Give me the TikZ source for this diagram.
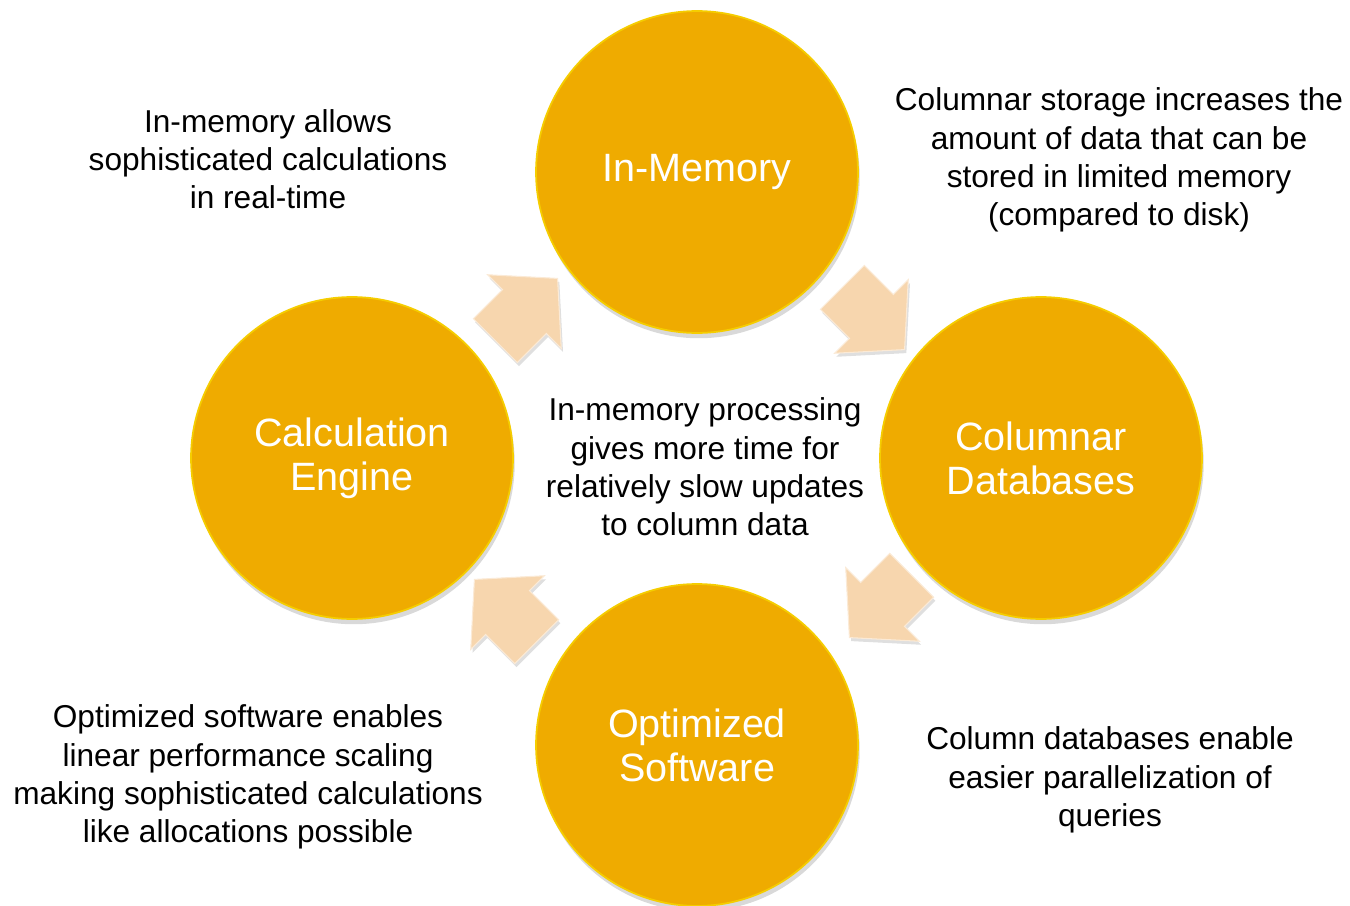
\documentclass[tikz,border=0pt]{standalone}
\usepackage{fontspec}
\setmainfont{Liberation Sans}
\usetikzlibrary{shapes.arrows, shadows, positioning}
\definecolor{gold}{RGB}{239,171,0}
\definecolor{peach}{RGB}{247,214,174}

\begin{document}
\begin{tikzpicture}[
	x=0.02cm, y=-0.02cm,
	topic/.style = {shape=circle, fill=gold, draw=gold!60!yellow, line width=1pt, minimum size=6.44cm, inner sep=0mm, text=white, align=center, font=\fontsize{22.5}{25}\selectfont, drop shadow={opacity=0.3, shadow xshift=1pt, shadow yshift=-3pt}},
	note/.style = {shape=rectangle, draw=none, inner sep=0mm, align=center, font=\fontsize{18}{21.8}\selectfont},
	flow/.style = {shape=single arrow, fill=peach, draw=peach!50!white, line width=0.6pt, minimum height=1.76cm, single arrow head extend=0.42cm, single arrow tip angle=96, inner xsep=0mm, inner ysep=0.61cm, anchor=tail, drop shadow={opacity=0.25, shadow xshift=1pt, shadow yshift=-2pt}},
	]
\useasboundingbox (0,0) rectangle (1350,906);
% the four circles
\node[topic] (mem) at (697,172) {In-Memory};
\node[topic] (col) at (1041,458) {Columnar\\Databases};
\node[topic] (opt) at (697,745) {Optimized\\Software};
\node[topic] (calc) at (352,458) {Calculation\\Engine};
% block arrows, clockwise
\node[flow, rotate=45] (a1) at (495,341) {};
\node[flow, rotate=-45] (a2) at (842,287) {};
\node[flow, rotate=-135] (a3) at (912,575) {};
\node[flow, rotate=135] (a4) at (537,642) {};
% notes
\node[note] (nmem) at (268,159) {In-memory allows\\sophisticated calculations\\in real-time};
\node[note] (ncol) at (1119,160) {Columnar storage increases the\\amount of data that can be\\stored in limited memory\\(compared to disk)};
\node[note] (nmid) at (705,467) {In-memory processing\\gives more time for\\relatively slow updates\\to column data};
\node[note] (nopt) at (248,777) {Optimized software enables\\linear performance scaling\\making sophisticated calculations\\like allocations possible};
\node[note] (ncalc) at (1110,780) {Column databases enable\\easier parallelization of\\queries};
\end{tikzpicture}
\end{document}
